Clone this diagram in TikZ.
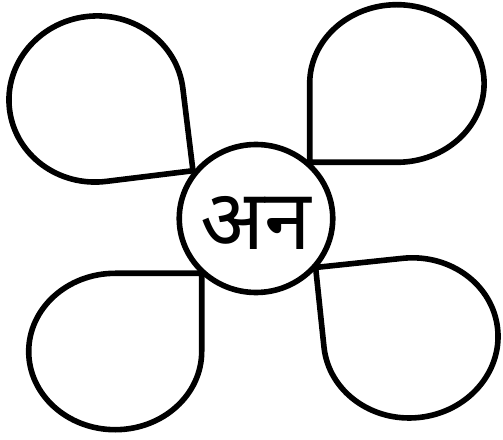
\documentclass[tikz,border=0pt]{standalone}
\usepackage{fontspec}
\newfontfamily\devfont[Script=Devanagari]{Noto Sans}
\usetikzlibrary{shapes.geometric}
\begin{document}
\begin{tikzpicture}[x=1pt,y=1pt,
  ink/.style={line width=5.6pt, draw=black, line join=miter},
  hub/.style={ink, ellipse, minimum width=153.5pt, minimum height=148pt, inner sep=0pt},
  lbl/.style={anchor=base, inner sep=0pt, font=\devfont\fontsize{84}{90}\selectfont}]
\useasboundingbox (0,0) rectangle (503,439);
% top-left petal
\begin{scope}[shift={(96.2,340)}, rotate=7]
  \draw[ink] (87.3,0) arc[start angle=0, end angle=270, x radius=87.3pt, y radius=83pt] -- (87.3,-83) -- cycle;
\end{scope}
% top-right petal
\begin{scope}[shift={(396.9,355.5)}]
  \draw[ink] (0,-78.8) arc[start angle=-90, end angle=180, x radius=87.2pt, y radius=78.8pt] -- (-87.2,-78.8) -- cycle;
\end{scope}
% bottom-left petal
\begin{scope}[shift={(115.2,87.5)}]
  \draw[ink] (0,78.2) arc[start angle=90, end angle=360, x radius=86.5pt, y radius=78.2pt] -- (86.5,78.2) -- cycle;
\end{scope}
% bottom-right petal
\begin{scope}[shift={(410.8,101.1)}, rotate=6]
  \draw[ink] (-87.3,0) arc[start angle=180, end angle=450, x radius=87.3pt, y radius=80pt] -- (-87.3,80) -- cycle;
\end{scope}
% hub
\node[hub] (hub) at (256,220.5) {};
\node[lbl] (word) at (256,189) {अन};
\end{tikzpicture}
\end{document}
